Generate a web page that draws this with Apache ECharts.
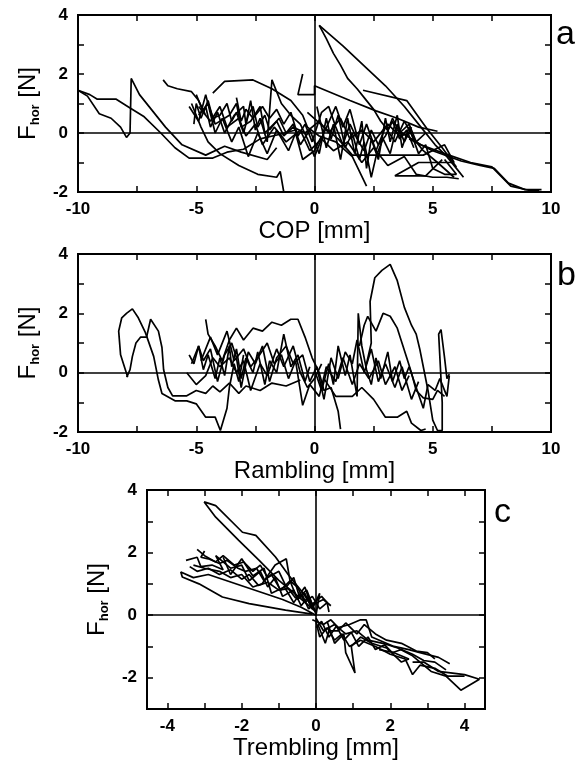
<!DOCTYPE html>
<html>
<head>
<meta charset="utf-8">
<script src="https://cdn.jsdelivr.net/npm/echarts@6/dist/echarts.min.js"></script>
<style>
  html, body { margin: 0; padding: 0; background: #fff; }
  #chart { width: 577px; height: 761px; }
</style>
</head>
<body>
<div id="chart"></div>
<script>
// tick values
const xLabelsAB = [-10, -5, 0, 5, 10]
const xTicksAB = [-10, -7.5, -5, -2.5, 0, 2.5, 5, 7.5, 10]
const yLabelsAB = [-2, 0, 2, 4]
const yTicksAB = [-2, -1, 0, 1, 2, 3, 4]
const xLabelsC = [-4, -2, 0, 2, 4]
const xTicksC = [-4, -3, -2, -1, 0, 1, 2, 3, 4]
const yLabelsC = [-2, 0, 2, 4]
const yTicksC = [-3, -2, -1, 0, 1, 2, 3, 4]

// panel a: F_hor vs COP
const copA1 = [[-10, 1.45], [-9.5, 1.3], [-9.2, 1.15], [-8.4, 1.15], [-7.9, 0.9], [-7.2, 0.55], [-6.5, 0.0], [-5.9, -0.5], [-5.3, -0.85], [-4.3, -0.85], [-3.7, -0.65], [-3.0, -0.55], [-2.3, -0.2], [-1.5, -0.05], [-0.8, 0.1]]
const copA2 = [[-10, 1.45], [-9.6, 1.25], [-9.1, 0.65], [-8.6, 0.5], [-8.2, 0.2], [-7.95, -0.15], [-7.8, 0.0], [-7.75, 1.85], [-7.4, 1.3], [-6.9, 0.8], [-6.3, 0.2], [-5.6, -0.4], [-4.6, -0.75], [-3.8, -0.45], [-3.1, -0.65], [-2.0, -0.9], [-1.6, -0.5]]
const copA3 = [[-6.4, 1.8], [-6.2, 1.6], [-5.8, 1.5], [-5.2, 1.4], [-4.9, 1.1], [-4.6, 0.6], [-4.9, 0.9], [-4.4, 0.4], [-4.0, 0.9], [-3.7, 0.2], [-3.2, 0.5], [-2.9, -0.1], [-2.5, 0.3], [-2.2, -0.4], [-1.7, 0.2], [-1.2, -0.3], [-0.6, 0.1], [-0.2, -0.6], [0.3, -0.2], [0.8, -0.6], [1.4, -0.3], [2.0, -1.0], [2.5, -0.5], [3.1, -1.1], [3.8, -0.8], [4.3, -1.4], [5.0, -1.5], [5.6, -1.5], [6.1, -1.55]]
const copA4 = [[-4.3, 1.35], [-3.8, 1.75], [-2.6, 1.8], [-1.8, 1.5], [-1.0, 1.1], [-0.5, 0.6], [-0.3, 0.2], [0.2, -0.1], [0.9, -0.3], [1.6, -0.8], [2.2, -1.8]]
const copA5 = [[-5.1, 0.3], [-5.0, 1.0], [-4.8, 0.5], [-4.6, 0.9], [-4.4, 0.2], [-4.1, 0.7], [-3.8, 0.0], [-3.4, 0.6], [-3.0, 0.9], [-2.9, 0.3], [-2.7, 1.1], [-2.5, 0.1], [-2.3, 0.5], [-2.0, -0.3], [-1.8, 1.8], [-1.4, 1.0], [-1.0, 0.6], [-0.6, 0.3], [-0.3, -0.2], [0.0, -0.8], [0.4, 0.0], [0.9, 0.9], [1.2, 0.2], [1.5, 0.8], [1.9, -0.4], [2.2, 0.3], [2.6, -0.6], [3.0, 0.2], [3.4, -0.3], [3.8, 0.4], [4.2, -0.2], [4.6, -0.6], [5.2, -1.0], [5.9, -1.5]]
const copA6 = [[-5.2, 1.0], [-4.8, 0.2], [-4.5, -0.3], [-4.0, -0.7], [-3.2, -1.1], [-2.4, -1.4], [-1.6, -1.5], [-1.45, -1.3], [-1.3, -2.0]]
const copA7 = [[-0.5, 2.0], [-0.7, 1.3], [0.0, 1.3], [0.0, 1.6], [1.5, 1.1], [2.6, 0.75], [3.5, 0.5], [4.4, 0.2], [5.2, 0.06]]
const copA8 = [[0.2, 3.65], [0.5, 3.2], [0.8, 2.7], [1.1, 2.3], [1.4, 1.85], [1.8, 1.5], [2.1, 1.2], [2.5, 0.8], [2.8, 0.4], [3.1, 0.1], [3.3, 0.5], [3.6, 0.0], [4.0, 0.3], [4.3, -0.3], [4.7, 0.0]]
const copA9 = [[0.2, 3.65], [1.2, 2.95], [2.2, 2.2], [3.0, 1.6], [3.8, 0.9], [4.5, 0.2], [5.1, -0.4], [5.6, -0.8], [6.0, -1.2], [6.3, -1.5]]
const copA10 = [[2.05, 1.45], [3.9, 1.1], [4.75, 0.15], [5.4, -0.5], [6.0, -1.15]]
const copA11 = [[3.5, 0.1], [4.5, -0.4], [5.5, -0.7], [6.6, -1.0], [7.5, -1.15], [8.3, -1.8], [9.1, -1.95], [9.5, -1.95]]
const copA12 = [[4.0, -0.2], [5.0, -0.6], [6.2, -0.95], [7.0, -1.1], [7.6, -1.2], [8.2, -1.7], [8.9, -1.92], [9.6, -1.92]]
const copA13 = [[0.1, 0.9], [0.5, -0.5], [0.8, 0.3], [1.1, -0.9], [1.4, 0.5], [1.7, -0.7], [2.0, 0.4], [2.2, -1.2], [2.4, -0.2], [2.7, -0.9], [3.0, 0.5], [3.2, -0.3], [3.5, 0.6], [3.7, -0.5], [4.0, 0.2], [4.4, -0.7], [4.7, -0.4], [5.0, -1.2], [5.5, -1.4], [6.0, -1.4], [5.5, -0.9]]
const copA14 = [[-5.3, 0.9], [-4.9, 0.4], [-4.6, 1.3], [-4.2, 0.0], [-3.9, 0.5], [-3.5, -0.3], [-3.2, 0.2], [-2.8, -0.8], [-2.4, 0.0], [-2.0, -0.7], [-1.6, 0.1], [-1.1, -0.6], [-0.8, 0.0], [-0.5, -0.9], [0.0, -0.6], [0.3, -0.1]]
const copA15 = [[-0.3, 0.7], [0.4, 0.2], [1.0, -0.2], [1.6, -0.75], [2.8, -0.75], [4.6, -0.75], [5.5, -0.4], [5.9, -1.0], [4.4, -1.0], [3.4, -1.45], [4.7, -1.45], [5.4, -0.9]]
const copA16 = [[-4.9, 0.6], [-4.5, 1.0], [-4.2, 0.3], [-3.6, 0.6], [-3.3, 1.0], [-3.1, 0.2], [-2.7, 0.4], [-2.3, 0.9], [-2.1, 0.0], [-1.6, 0.4], [-1.3, -0.1], [-0.9, 0.2], [-0.4, 0.0], [0.2, 0.4], [0.6, 0.0], [1.1, 0.5], [1.5, -0.2], [2.0, 0.1], [2.5, -0.3], [3.1, 0.3], [3.6, -0.1], [4.1, 0.0]]
const copA17 = [[-5.0, 1.3], [-4.7, 0.7], [-4.5, 1.1], [-4.3, 0.5], [-4.0, 0.6], [-3.7, 1.0], [-3.5, 0.4], [-3.3, 0.7], [-3.0, 0.0], [-2.8, 0.6], [-2.6, 0.9], [-2.4, 0.2], [-2.1, 0.6], [-1.9, 0.1], [-1.5, 0.5], [-1.2, 0.0], [-0.9, 0.3], [-0.6, -0.4], [-0.2, 0.1], [0.2, -0.7], [0.5, 0.5], [0.7, -0.2], [1.0, 0.6], [1.3, -0.5], [1.6, 0.0], [1.9, -0.9], [2.1, -0.3], [2.4, -1.5], [2.6, -0.8], [2.9, -0.2], [3.2, -0.7], [3.5, 0.3], [3.8, -0.3], [4.1, 0.2]]
const copA18 = [[-3.3, 1.2], [-3.1, 0.4], [-2.9, 0.8], [-2.6, 0.5], [-2.2, 0.9], [-1.9, 0.5], [-1.6, 0.8], [-1.3, 0.3], [-1.0, 0.7], [-0.7, -0.1], [-0.4, 0.3], [-0.1, -0.3], [0.3, 0.7], [0.6, 0.9], [0.9, 0.2], [1.2, -0.4], [1.5, 0.3], [1.8, -0.2], [2.1, -0.6], [2.4, 0.1], [2.7, -0.4], [3.0, -0.1], [3.3, 0.4], [3.6, -0.2], [3.9, 0.1], [4.2, -0.5]]

// panel b: F_hor vs Rambling
const ramB1 = [[-7.9, -0.15], [-8.2, 0.6], [-8.28, 1.4], [-8.15, 1.85], [-7.95, 2.0], [-7.7, 2.15], [-7.45, 1.85], [-7.15, 1.35], [-6.8, 0.55], [-6.6, -0.25], [-6.45, -0.7], [-5.9, -0.95], [-5.4, -0.95], [-5.0, -1.05], [-4.6, -1.5], [-4.2, -1.5], [-3.98, -1.95], [-3.7, -1.2], [-3.6, -0.5], [-3.4, 0.3], [-3.2, -0.3], [-3.0, 0.6]]
const ramB2 = [[-7.94, -0.15], [-7.8, 0.1], [-7.7, 0.55], [-7.55, 1.0], [-7.35, 1.2], [-7.1, 1.2], [-6.93, 1.8], [-6.6, 1.4], [-6.45, 0.85], [-6.38, 0.1], [-6.2, -0.5], [-6.0, -0.78], [-5.4, -0.78], [-5.0, -0.6], [-4.6, -0.7], [-4.3, -0.45], [-4.0, -0.65], [-3.6, -0.35], [-3.2, -0.7], [-2.9, -0.45], [-2.3, -0.6], [-1.8, -0.35], [-1.2, -0.45], [-0.6, -0.25]]
const ramB3 = [[-4.6, 1.8], [-4.5, 1.3], [-4.2, 0.9], [-3.9, 0.4], [-3.6, 1.1], [-3.3, 1.5], [-3.0, 1.1], [-2.6, 1.5], [-2.2, 1.4], [-1.8, 1.7], [-1.4, 1.6], [-1.0, 1.8], [-0.7, 1.8], [-0.4, 1.2], [-0.1, 0.5], [0.2, 0.0], [0.4, -0.6], [0.7, -0.5], [1.0, -1.3], [1.1, -1.9]]
const ramB4 = [[-5.3, 0.6], [-5.1, 0.3], [-4.9, 0.9], [-4.7, 0.1], [-4.5, 0.6], [-4.2, -0.2], [-4.0, 0.5], [-3.8, -0.1], [-3.6, 0.9], [-3.5, 0.2], [-3.3, 0.8], [-3.1, -0.2], [-2.9, 0.5], [-2.6, 0.0], [-2.4, 0.7], [-2.1, -0.4], [-1.9, 0.4], [-1.6, 0.0], [-1.3, 1.3], [-1.0, 0.2], [-0.7, 0.6], [-0.4, -0.3], [-0.2, 0.2]]
const ramB5 = [[-5.4, 0.0], [-5.0, -0.4], [-4.6, -0.1], [-4.3, 0.5], [-4.0, 0.2], [-3.6, 0.5], [-3.3, 0.0], [-3.0, 0.4], [-2.7, -0.6], [-2.3, 0.3], [-2.0, -0.1], [-1.6, 0.8], [-1.3, 0.2], [-0.9, 0.9], [-0.6, 0.0], [-0.3, -0.5], [0.0, -0.2], [0.3, 0.3]]
const ramB6 = [[0.0, 0.1], [0.3, -0.6], [0.6, 0.3], [0.8, -0.4], [1.0, 0.9], [1.3, -0.1], [1.5, 0.6], [1.8, -0.8], [1.85, 2.0], [2.0, 0.9], [2.2, 0.1], [2.4, -0.4], [2.6, 0.5], [2.8, -0.2], [3.1, 0.7], [3.3, -0.3], [3.6, 0.4], [3.8, -0.2], [4.0, 0.2], [4.3, -0.5], [4.6, -1.2], [4.8, -0.4], [5.1, -0.6], [5.3, -0.2], [5.6, -0.8], [5.7, -0.1]]
const ramB7 = [[2.2, 0.3], [2.4, 1.0], [2.35, 2.4], [2.55, 3.2], [2.85, 3.45], [3.2, 3.65], [3.5, 3.1], [3.8, 2.2], [4.1, 1.6], [4.3, 1.3], [4.45, 0.8], [4.6, 0.2], [4.8, -0.6], [5.0, -1.6], [5.2, -1.95], [5.4, -1.95], [5.4, -1.0], [5.25, 1.3], [5.35, 1.45], [5.5, 0.5], [5.6, -0.2], [5.7, -0.05]]
const ramB8 = [[1.9, 0.9], [2.1, 1.6], [2.25, 1.9], [2.6, 1.4], [2.9, 2.0], [3.2, 1.9], [3.5, 1.5], [3.7, 1.0], [3.9, 0.5], [4.1, 0.0], [4.3, -0.6], [4.6, -0.85], [5.0, -0.9], [5.2, -0.6], [5.5, -0.8]]
const ramB9 = [[0.4, -0.2], [0.9, -0.8], [1.6, -0.8], [2.0, -0.5], [2.5, -0.9], [3.0, -1.5], [3.5, -1.5], [3.9, -1.3], [4.1, -1.7], [4.5, -1.95], [4.7, -1.9]]
const ramB10 = [[-4.8, 0.4], [-4.4, 1.2], [-4.1, 0.6], [-3.7, 1.4], [-3.4, 0.4], [-3.0, 0.8], [-2.7, 0.2], [-2.4, 0.5], [-2.0, 1.0], [-1.7, 0.3], [-1.4, 0.6], [-1.1, -0.2], [-0.8, 0.4], [-0.5, -1.1], [-0.2, -0.4], [0.2, -0.8], [0.5, 0.2], [0.9, -0.3], [1.2, 0.5], [1.6, -0.4], [1.9, 0.3], [2.3, -0.2], [2.7, 0.4], [3.0, -0.4], [3.4, 0.2], [3.7, -0.6], [4.0, -0.1]]
const ramB11 = [[-5.2, 0.3], [-4.9, 0.9], [-4.7, 0.4], [-4.4, 0.8], [-4.1, -0.3], [-3.8, 0.6], [-3.5, 1.0], [-3.3, 0.5], [-3.1, -0.5], [-2.8, 0.7], [-2.5, 0.3], [-2.2, 0.9], [-1.9, -0.3], [-1.6, 0.5], [-1.2, 0.9], [-0.9, 0.3], [-0.5, 0.6], [-0.2, -0.3], [0.1, 0.2], [0.4, -0.9], [0.7, 0.5], [1.0, -0.2], [1.3, 0.7], [1.6, 0.3], [1.8, 1.1], [2.1, 0.0], [2.4, 0.8], [2.7, -0.3], [3.0, 0.3], [3.4, -0.5], [3.7, 0.2], [4.1, -0.9], [4.4, -0.3]]

// panel c: F_hor vs Trembling
const treC1 = [[0, 0.05], [-0.1, 0.27], [-0.37, 0.74], [-0.73, 1.27], [-1.09, 1.86], [-1.62, 2.55], [-1.98, 2.65], [-2.7, 3.5], [-3.01, 3.62], [-2.7, 3.13], [-2.08, 2.39], [-1.53, 1.75], [-1.0, 1.11], [-0.46, 0.58], [-0.05, 0.15]]
const treC2 = [[-0.1, 0.03], [-0.82, 0.16], [-1.8, 0.37], [-2.52, 0.58], [-3.15, 1.0], [-3.6, 1.22], [-3.64, 1.38], [-3.3, 1.2], [-2.9, 1.3], [-2.4, 1.1], [-1.9, 0.9], [-1.4, 0.7], [-0.9, 0.5], [-0.4, 0.25], [0.0, 0.0]]
const treC3 = [[-3.5, 1.75], [-3.2, 1.85], [-3.1, 1.55], [-2.8, 1.6], [-2.5, 1.45], [-2.7, 1.9], [-2.3, 1.5], [-2.0, 1.6], [-1.8, 1.1], [-1.5, 1.4], [-1.3, 0.9], [-1.1, 1.2], [-0.9, 0.6], [-0.6, 0.8], [-0.4, 0.3], [-0.2, 0.6], [0.0, 0.1]]
const treC4 = [[-3.0, 2.05], [-3.1, 1.85], [-2.9, 1.8], [-2.6, 1.65], [-2.4, 1.75], [-2.1, 1.5], [-1.9, 1.4], [-1.6, 1.5], [-1.4, 1.1], [-1.2, 1.3], [-0.95, 0.8], [-0.7, 1.1], [-0.5, 0.5], [-0.3, 0.7], [-0.15, 0.3], [0.2, 0.5], [0.4, 0.3]]
const treC5 = [[-3.3, 1.6], [-3.0, 1.5], [-2.6, 1.4], [-2.3, 1.2], [-2.0, 1.3], [-1.7, 0.9], [-1.45, 1.0], [-1.1, 1.6], [-0.8, 1.8], [-0.7, 1.1], [-0.5, 0.9], [-0.3, 0.4], [-0.1, 0.6], [0.1, 0.2], [0.3, 0.4], [0.35, 0.1]]
const treC6 = [[-2.5, 1.85], [-2.3, 1.3], [-2.0, 1.8], [-1.7, 1.25], [-1.4, 1.5], [-1.2, 0.7], [-0.85, 0.9], [-0.6, 0.4], [-0.3, 0.9], [-0.1, 0.2], [0.1, 0.7], [0.0, 0.0]]
const treC7 = [[0.0, -0.1], [0.2, -0.5], [0.5, -0.3], [0.8, -0.6], [1.1, -0.5], [1.4, -0.8], [1.8, -0.9], [2.2, -1.05], [2.6, -1.3], [3.1, -1.8], [3.5, -1.95], [3.9, -2.4], [4.4, -2.05], [4.0, -1.9], [3.3, -1.8], [2.9, -1.5], [2.6, -1.5]]
const treC8 = [[0.0, -0.2], [0.1, -0.7], [0.3, -0.4], [0.5, -0.8], [0.7, -0.6], [0.9, -1.0], [1.2, -0.8], [1.6, -1.0], [2.0, -1.25], [2.4, -1.4], [2.6, -1.9], [2.8, -1.6], [3.2, -1.7], [3.55, -1.95], [4.0, -1.95]]
const treC9 = [[-0.1, -0.15], [0.2, -0.3], [0.4, -0.15], [0.6, -0.4], [0.9, -0.3], [1.2, -0.15], [1.35, -0.15], [1.5, -0.7], [1.8, -0.85], [2.1, -1.0], [2.5, -1.1], [2.8, -1.2], [3.3, -1.35], [3.6, -1.55]]
const treC10 = [[0.3, -0.2], [0.5, -0.9], [0.75, -0.6], [0.8, -1.2], [1.05, -1.85], [0.95, -1.0], [1.2, -0.7], [1.5, -0.9], [1.9, -1.05], [2.3, -1.5], [2.5, -1.4], [2.1, -1.2], [1.7, -1.1]]
const treC11 = [[0.05, -0.3], [0.25, -0.9], [0.35, -0.5], [0.6, -0.5], [0.8, -0.25], [1.1, -0.6], [1.3, -0.3], [1.6, -0.6], [1.9, -0.8], [2.3, -0.9], [2.7, -1.15], [3.0, -1.2], [3.2, -1.4]]
const treC12 = [[-3.2, 2.1], [-3.0, 1.9], [-2.7, 1.7], [-2.5, 1.9], [-2.2, 1.6], [-1.95, 1.7], [-1.7, 1.4], [-1.5, 1.6], [-1.3, 1.2], [-1.0, 1.4], [-0.8, 0.9], [-0.6, 1.2], [-0.45, 0.6], [-0.25, 0.8], [-0.1, 0.35], [0.15, 0.6], [0.3, 0.4]]
const treC13 = [[-3.4, 1.55], [-3.2, 1.4], [-2.9, 1.5], [-2.6, 1.3], [-2.3, 1.45], [-2.0, 1.15], [-1.8, 1.3], [-1.55, 0.95], [-1.3, 1.05], [-1.0, 0.8], [-0.75, 0.85], [-0.55, 0.55], [-0.35, 0.6], [-0.2, 0.2], [0.0, 0.4]]
const treC14 = [[0.0, -0.4], [0.15, -0.2], [0.35, -0.7], [0.55, -0.35], [0.75, -0.8], [0.95, -0.55], [1.15, -1.0], [1.4, -0.7], [1.6, -1.1], [1.85, -0.95], [2.05, -1.2], [2.3, -1.1], [2.6, -1.25], [2.9, -1.45], [3.2, -1.5], [3.5, -1.75]]

const panelA = [copA1, copA2, copA3, copA4, copA5, copA6, copA7, copA8, copA9, copA10, copA11, copA12, copA13, copA14, copA15, copA16, copA17, copA18]
const panelB = [ramB1, ramB2, ramB3, ramB4, ramB5, ramB6, ramB7, ramB8, ramB9, ramB10, ramB11]
const panelC = [treC1, treC2, treC3, treC4, treC5, treC6, treC7, treC8, treC9, treC10, treC11, treC12, treC13, treC14]

const chart = echarts.init(document.getElementById('chart'), null, { renderer: 'canvas' })

const fontFam = 'Liberation Sans, Arial, sans-serif'
const tickFont = { color: '#000', fontSize: 17, fontWeight: 'bold', fontFamily: fontFam }
const tickStyle = { color: '#000', width: 1.5 }

function xAxes(grid, min, max, labels, ticks, name) {
  return [{
    type: 'value', gridIndex: grid, min, max, position: 'bottom',
    name, nameLocation: 'middle', nameGap: 27,
    nameTextStyle: { color: '#000', fontSize: 24, fontFamily: fontFam },
    axisLine: { show: false, onZero: false },
    axisTick: { inside: true, length: 6, customValues: ticks, lineStyle: tickStyle },
    axisLabel: { customValues: labels, margin: 9, ...tickFont },
    splitLine: { show: false },
  }, {
    type: 'value', gridIndex: grid, min, max, position: 'top',
    axisLine: { show: false, onZero: false },
    axisTick: { inside: true, length: 6, customValues: ticks, lineStyle: tickStyle },
    axisLabel: { show: false },
    splitLine: { show: false },
  }]
}

function yAxes(grid, min, max, labels, ticks) {
  return [{
    type: 'value', gridIndex: grid, min, max, position: 'left',
    name: '{f|F}{s|hor}{f| [N]}', nameLocation: 'middle', nameRotate: 90, nameGap: 32,
    nameTextStyle: {
      color: '#000',
      rich: {
        f: { fontSize: 24, lineHeight: 28, fontFamily: fontFam, color: '#000' },
        s: { fontSize: 13, lineHeight: 28, fontWeight: 'bold', verticalAlign: 'bottom', fontFamily: fontFam, color: '#000' },
      },
    },
    axisLine: { show: false, onZero: false },
    axisTick: { inside: true, length: 6, customValues: ticks, lineStyle: tickStyle },
    axisLabel: { customValues: labels, margin: 10, ...tickFont },
    splitLine: { show: false },
  }, {
    type: 'value', gridIndex: grid, min, max, position: 'right',
    axisLine: { show: false, onZero: false },
    axisTick: { inside: true, length: 6, customValues: ticks, lineStyle: tickStyle },
    axisLabel: { show: false },
    splitLine: { show: false },
  }]
}

const zeroLines = {
  silent: true,
  symbol: 'none',
  label: { show: false },
  lineStyle: { color: '#000', width: 1.6, type: 'solid' },
  data: [{ xAxis: 0 }, { yAxis: 0 }],
}

function traces(list, axisIdx) {
  return list.map((d, i) => ({
    type: 'line',
    xAxisIndex: axisIdx,
    yAxisIndex: axisIdx,
    data: d,
    showSymbol: false,
    symbol: 'none',
    lineStyle: { color: '#000', width: 1.7 },
    markLine: i === 0 ? zeroLines : undefined,
    z: 3,
  }))
}

const gridBox = { show: true, borderColor: '#000', borderWidth: 2, backgroundColor: 'transparent' }
const tagFont = '34px "Liberation Sans", Arial, sans-serif'

const option = {
  backgroundColor: '#fff',
  animation: false,
  grid: [
    { left: 78, top: 15, width: 473, height: 177, ...gridBox },
    { left: 78, top: 254, width: 473, height: 178, ...gridBox },
    { left: 147, top: 490, width: 338, height: 220, ...gridBox },
  ],
  xAxis: [
    ...xAxes(0, -10, 10, xLabelsAB, xTicksAB, 'COP [mm]'),
    ...xAxes(1, -10, 10, xLabelsAB, xTicksAB, 'Rambling [mm]'),
    ...xAxes(2, -4.55, 4.55, xLabelsC, xTicksC, 'Trembling [mm]'),
  ],
  yAxis: [
    ...yAxes(0, -2, 4, yLabelsAB, yTicksAB),
    ...yAxes(1, -2, 4, yLabelsAB, yTicksAB),
    ...yAxes(2, -3, 4, yLabelsC, yTicksC),
  ],
  graphic: [
    { type: 'text', left: 556, top: 18, style: { text: 'a', font: tagFont, fill: '#000' } },
    { type: 'text', left: 557, top: 259, style: { text: 'b', font: tagFont, fill: '#000' } },
    { type: 'text', left: 494, top: 496, style: { text: 'c', font: tagFont, fill: '#000' } },
  ],
  series: [
    ...traces(panelA, 0),
    ...traces(panelB, 2),
    ...traces(panelC, 4),
  ],
}

chart.setOption(option)
</script>
</body>
</html>
